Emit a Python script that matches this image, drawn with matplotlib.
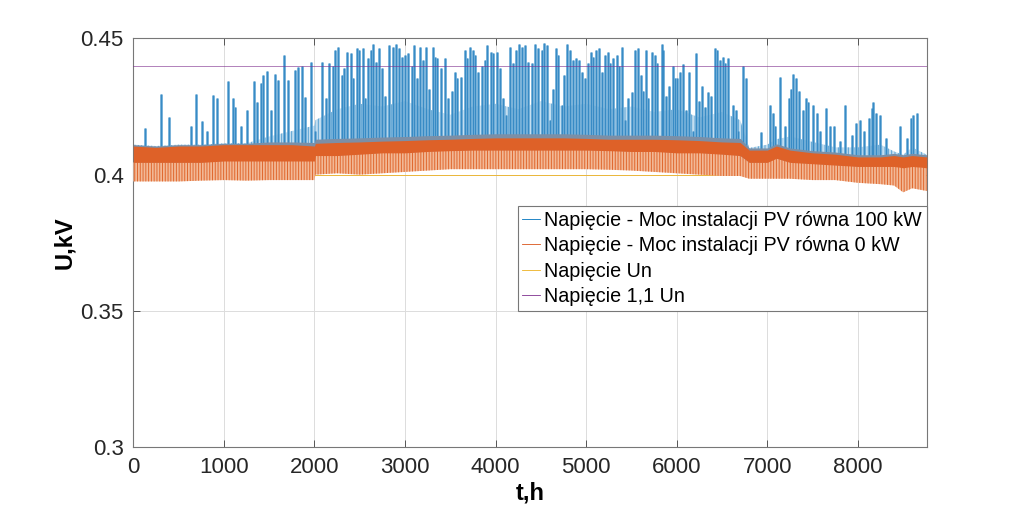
import matplotlib.pyplot as plt
from matplotlib.lines import Line2D
import numpy as np

plt.rcParams['font.family'] = ['Liberation Sans', 'DejaVu Sans']
plt.rcParams['hatch.linewidth'] = 0.7

# envelope of the dense hourly band
t_nodes = [0, 250, 500, 750, 1000, 1250, 1500, 1750, 2000, 2010, 2250, 2500, 2750,
           3000, 3250, 3500, 3750, 4000, 4250, 4500, 4750, 5000, 5250, 5500, 5750,
           6000, 6250, 6500, 6700, 6800, 7000, 7100, 7250, 7500, 7750, 8000, 8250,
           8400, 8500, 8600, 8760]
orange_low = [0.3975, 0.3975, 0.3975, 0.3978, 0.398, 0.3978, 0.398, 0.398, 0.398, 0.4, 0.4005,
              0.400, 0.4005, 0.401, 0.4015, 0.402, 0.402, 0.402, 0.402, 0.402, 0.402, 0.402,
              0.4018, 0.4015, 0.401, 0.4005, 0.4, 0.3995, 0.3995, 0.3985, 0.3985, 0.3985, 0.3985,
              0.398, 0.398, 0.397, 0.3965, 0.396, 0.3935, 0.395, 0.394]
orange_mid = [0.4045, 0.4045, 0.4045, 0.4045, 0.405, 0.405, 0.405, 0.405, 0.405, 0.407, 0.407,
              0.4075, 0.408, 0.408, 0.4085, 0.4088, 0.409, 0.409, 0.409, 0.409, 0.409, 0.409,
              0.4088, 0.4085, 0.4085, 0.408, 0.408, 0.4075, 0.407, 0.4045, 0.4045, 0.406, 0.4045,
              0.404, 0.4035, 0.403, 0.403, 0.403, 0.4025, 0.403, 0.4025]
orange_high = [0.4105, 0.410, 0.4105, 0.4105, 0.411, 0.411, 0.411, 0.411, 0.4105, 0.4115, 0.4118,
               0.412, 0.4123, 0.4125, 0.4128, 0.413, 0.4133, 0.4135, 0.4135, 0.4135, 0.4135, 0.4133,
               0.413, 0.413, 0.413, 0.4128, 0.4125, 0.412, 0.4118, 0.409, 0.409, 0.4105, 0.409,
               0.408, 0.4075, 0.4065, 0.4065, 0.407, 0.4065, 0.407, 0.4065]
blue_top = [0.411, 0.4105, 0.411, 0.411, 0.4115, 0.4115, 0.412, 0.412, 0.4118, 0.413, 0.4133,
            0.4135, 0.4138, 0.414, 0.4143, 0.4145, 0.4148, 0.415, 0.415, 0.415, 0.415, 0.4148,
            0.4145, 0.4145, 0.4145, 0.4143, 0.414, 0.4135, 0.4133, 0.4098, 0.4098, 0.4113, 0.4098,
            0.4088, 0.4083, 0.4073, 0.4073, 0.4078, 0.4073, 0.4078, 0.4073]
blue_dense = [0.411, 0.4105, 0.411, 0.411, 0.4115, 0.4115, 0.414, 0.416, 0.418, 0.42, 0.424,
              0.426, 0.425, 0.427, 0.424, 0.422, 0.425, 0.426, 0.424, 0.427, 0.425, 0.426,
              0.424, 0.425, 0.423, 0.424, 0.421, 0.423, 0.42, 0.4098, 0.411, 0.413, 0.414,
              0.412, 0.41, 0.41, 0.411, 0.4085, 0.4073, 0.41, 0.4073]

# blue peaks (PV 100 kW)
spike_t = [129, 302, 398, 633, 689, 755, 810, 876, 920, 1042, 1098, 1123, 1185, 1259, 1336, 1362,
           1406, 1435, 1472, 1516, 1567, 1600, 1667, 1704, 1785, 1822, 1858, 1895, 1958, 2006,
           2080, 2128, 2164, 2201, 2227, 2264, 2300, 2326, 2363, 2400, 2429, 2466, 2495, 2532,
           2561, 2594, 2620, 2650, 2679, 2716, 2749, 2778, 2826, 2863, 2900, 2937, 2966, 2999,
           3036, 3072, 3102, 3128, 3164, 3201, 3230, 3267, 3304, 3330, 3355, 3392, 3444, 3477,
           3514, 3550, 3576, 3613, 3661, 3687, 3716, 3745, 3771, 3808, 3845, 3881, 3907, 3944,
           3973, 4010, 4047, 4084, 4120, 4164, 4194, 4230, 4260, 4296, 4325, 4361, 4398, 4435,
           4472, 4508, 4534, 4564, 4600, 4630, 4666, 4692, 4729, 4758, 4791, 4821, 4858, 4887,
           4917, 4950, 4986, 5023, 5049, 5079, 5108, 5145, 5174, 5207, 5237, 5263, 5299, 5336,
           5366, 5392, 5429, 5466, 5502, 5539, 5576, 5602, 5631, 5661, 5687, 5723, 5760, 5786,
           5834, 5852, 5882, 5918, 5955, 5981, 6007, 6036, 6066, 6099, 6136, 6176, 6213, 6246,
           6279, 6312, 6349, 6375, 6423, 6449, 6478, 6507, 6533, 6570, 6624, 6650, 6680, 6735,
           6764, 6926, 7029, 7066, 7084, 7139, 7194, 7239, 7261, 7287, 7312, 7353, 7397, 7426,
           7452, 7500, 7544, 7581, 7647, 7691, 7739, 7802, 7861, 7930, 7978, 8022, 8066, 8125,
           8151, 8169, 8195, 8243, 8309, 8464, 8537, 8582, 8611, 8648]
spike_v = [0.417, 0.4296, 0.421, 0.418, 0.4296, 0.4197, 0.416, 0.4294, 0.428, 0.4345, 0.428, 0.425,
           0.418, 0.4238, 0.4344, 0.4267, 0.4336, 0.4366, 0.4382, 0.4238, 0.437, 0.4348, 0.444,
           0.4348, 0.4384, 0.4395, 0.440, 0.4285, 0.4414, 0.416,
           0.4415, 0.4283, 0.441, 0.440, 0.4458, 0.447, 0.4367, 0.439, 0.4452, 0.4446, 0.4355,
           0.4464, 0.4458, 0.4464, 0.4283, 0.443, 0.4458, 0.448, 0.4415, 0.4464, 0.439, 0.4289,
           0.4475, 0.447, 0.448, 0.4464, 0.4433, 0.444, 0.4446, 0.440, 0.4475, 0.4355, 0.447,
           0.442, 0.447, 0.4313, 0.447, 0.4433, 0.443, 0.439, 0.443, 0.428, 0.4307, 0.4378,
           0.4355, 0.436, 0.4458, 0.443, 0.447, 0.4458, 0.444, 0.4378, 0.440, 0.442, 0.4475,
           0.4452, 0.4446, 0.4452, 0.439, 0.428, 0.422, 0.447, 0.441, 0.4458, 0.448, 0.447,
           0.4475, 0.4415, 0.441, 0.448, 0.4464, 0.4458, 0.4482, 0.4475, 0.420, 0.4313, 0.4464,
           0.444, 0.4254, 0.4367, 0.448, 0.4458, 0.442, 0.443, 0.442, 0.4378, 0.4355, 0.441,
           0.4452, 0.4433, 0.4458, 0.4464, 0.4378, 0.444, 0.4452, 0.441, 0.443, 0.444, 0.440,
           0.447, 0.420, 0.428, 0.4304, 0.4458, 0.4464, 0.4367, 0.4307, 0.4458, 0.428, 0.4452,
           0.444, 0.441, 0.448, 0.4458, 0.4289, 0.4325, 0.440, 0.4355, 0.4355, 0.4378, 0.4405,
           0.4238, 0.4378, 0.416, 0.4446, 0.427, 0.4325, 0.425, 0.4304, 0.4289, 0.4464, 0.4458,
           0.442, 0.4433, 0.441, 0.443, 0.4254, 0.4238, 0.416, 0.440, 0.4355, 0.4155, 0.4254,
           0.4226, 0.418, 0.436, 0.4177, 0.4283, 0.4313, 0.4369, 0.4355, 0.4307, 0.4238, 0.4283,
           0.4267, 0.4255, 0.4227, 0.416, 0.4244, 0.4177, 0.418, 0.4125, 0.4254, 0.4147, 0.4188,
           0.420, 0.416, 0.4207, 0.4244, 0.4267, 0.4226, 0.422, 0.4135, 0.4177, 0.4135, 0.4207,
           0.422, 0.4226]

t_end = 8760
u_n = 0.4
u_max = 0.44

c_blue = '#0072BD'
c_orange = '#D95319'
c_yellow = '#EDB120'
c_purple = '#7E2F8E'

fig = plt.figure(figsize=(10.24, 5.14), dpi=100)
ax = fig.add_axes([0.1302, 0.1304, 0.7748, 0.7948])

# PV 100 kW: dense daily peaks + read-off tall peaks
ax.fill_between(t_nodes, 0.405, blue_dense, facecolor='#c3def0', edgecolor='#5aa2d2',
                hatch='|||||', lw=0, zorder=2)
ax.vlines(spike_t, 0.405, spike_v, color='#6aaad6', lw=2.0, zorder=2)
ax.vlines(spike_t, 0.405, spike_v, color='#2f86c2', lw=0.6, zorder=2)
ax.fill_between(t_nodes, 0.403, blue_top, color='#7c8fa6', lw=0, zorder=2)
# PV 0 kW: dense daily band
ax.fill_between(t_nodes, orange_low, orange_mid, facecolor='#f2b896', edgecolor='#e0682e',
                hatch='||||||', lw=0, zorder=3)
ax.fill_between(t_nodes, orange_mid, orange_high, color='#de6128', lw=0, zorder=3)
ax.plot([0, t_end], [u_n, u_n], color=c_yellow, lw=0.6, zorder=1)
ax.plot([0, t_end], [u_max, u_max], color=c_purple, lw=0.6, alpha=0.7, zorder=4)

ax.set_xlim(0, t_end)
ax.set_ylim(0.3, 0.45)
ax.set_xticks(np.arange(0, 9000, 1000))
ax.set_yticks([0.3, 0.35, 0.4, 0.45])
ax.set_yticklabels(['0.3', '0.35', '0.4', '0.45'])
ax.grid(True, color='#dcdcdc', lw=0.7)
ax.set_axisbelow(True)
ax.tick_params(direction='in', top=True, right=True, length=5, width=0.7,
               color='#555555', labelsize=16, labelcolor='#262626', pad=7)
for s in ax.spines.values():
    s.set_color('#777777')
    s.set_linewidth(0.8)

ax.set_xlabel('t,h', fontsize=17, fontweight='bold', labelpad=3)
ax.set_ylabel('U,kV', fontsize=17, fontweight='bold', labelpad=3)

handles = [Line2D([], [], color=c_blue, lw=0.6),
           Line2D([], [], color=c_orange, lw=0.6),
           Line2D([], [], color=c_yellow, lw=0.6),
           Line2D([], [], color=c_purple, lw=0.6)]
labels = ['Napięcie - Moc instalacji PV równa 100 kW',
          'Napięcie - Moc instalacji PV równa 0 kW',
          'Napięcie Un',
          'Napięcie 1,1 Un']
leg = ax.legend(handles, labels, loc='upper right', bbox_to_anchor=(1.0, 0.59),
                borderaxespad=0, fontsize=14.2, handlelength=0.9, handletextpad=0.2,
                labelspacing=0.33, borderpad=0.25, fancybox=False, framealpha=1)
leg.get_frame().set_edgecolor('#777777')
leg.get_frame().set_linewidth(0.8)

fig.savefig('out.png', dpi=100)
